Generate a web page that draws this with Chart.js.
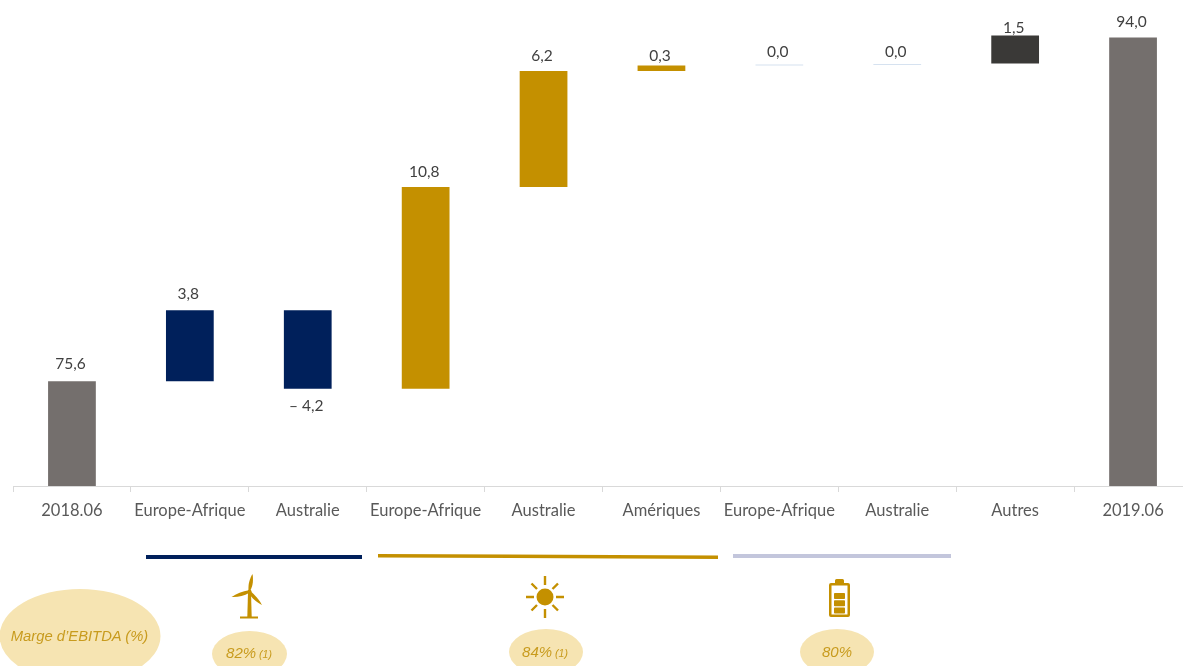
<!DOCTYPE html>
<html lang="fr"><head><meta charset="utf-8">
<style>
html,body{margin:0;padding:0;background:#fff;width:1183px;height:666px;overflow:hidden}
#wrap{position:absolute;left:0;top:0;width:1200px;height:666px}
#deco{position:absolute;left:0;top:0;width:1183px;height:666px}
#deco text{font-family:"Liberation Sans",Arial,sans-serif;font-style:italic;fill:#c89b1e;text-anchor:middle}
</style>
<script src="https://cdn.jsdelivr.net/npm/chart.js@4/dist/chart.umd.min.js"></script>
</head><body>
<div id="wrap"><canvas id="c" width="1200" height="666"></canvas></div>
<svg id="deco" viewBox="0 0 1183 666">
  <rect x="146" y="555" width="216" height="4" fill="#00205b"/>
  <polygon points="378,554 718,555.5 718,559 378,557.5" fill="#c49000"/>
  <rect x="733" y="554" width="218" height="4" fill="#c3c6dc"/>
  <ellipse cx="80" cy="636" rx="80.5" ry="47" fill="#f6e4b2"/>
  <ellipse cx="249.5" cy="654" rx="37.5" ry="23" fill="#f6e4b2"/>
  <ellipse cx="546" cy="652" rx="37" ry="23" fill="#f6e4b2"/>
  <ellipse cx="837" cy="652" rx="37" ry="23" fill="#f6e4b2"/>
  <text x="79.5" y="640.5" font-size="14.8">Marge d’EBITDA (%)</text>
  <text x="249" y="658" font-size="15">82%<tspan font-size="10.5" dx="3">(1)</tspan></text>
  <text x="545" y="657" font-size="15">84%<tspan font-size="10.5" dx="3">(1)</tspan></text>
  <text x="837" y="657" font-size="15">80%</text>
  <!-- éolienne -->
  <g fill="#c49000">
    <path d="M248 592 L247.3 617 L251.7 617 L251 592 Z"/>
    <rect x="240" y="616.5" width="18" height="2"/>
    <circle cx="249.5" cy="591.5" r="2"/>
    <path d="M248.5 590 C248 584 250 578 252.5 574 C253.5 579 253 586 250.5 590 Z"/>
    <path d="M248.5 590.5 C243 591 236 594 231.5 597 C237 597.5 244 596 249 593 Z"/>
    <path d="M251 591.5 C255 595 259.5 600 262 605 C257 602.5 251.5 598 249 593.5 Z"/>
  </g>
  <!-- soleil -->
  <g stroke="#c49000" stroke-width="2.4" fill="none">
    <path d="M545 576V585M545 609V618M526 597H534M556 597H564M531.5 583.5L537 589M552.5 589L558 583.5M531.5 610.5L537 605M552.5 605L558 610.5"/>
  </g>
  <circle cx="545" cy="597" r="8.5" fill="#c49000"/>
  <!-- batterie -->
  <g fill="#c49000">
    <path fill-rule="evenodd" d="M835 583V580.5Q835 579 836.5 579H842.5Q844 579 844 580.5V583H848Q850 583 850 585V615Q850 617 848 617H831Q829 617 829 615V585Q829 583 831 583ZM831.5 585.5V614.5H847.5V585.5Z"/>
    <rect x="834" y="593" width="11" height="6" rx="0.8"/>
    <rect x="834" y="600.3" width="11" height="6" rx="0.8"/>
    <rect x="834" y="607.6" width="11" height="6" rx="0.8"/>
  </g>
</svg>
<script>
const categories = ["2018.06","Europe-Afrique","Australie","Europe-Afrique","Australie","Amériques","Europe-Afrique","Australie","Autres","2019.06"];
const barLow  = [70, 75.6, 75.2, 75.2, 86.0, 92.2, 92.5, 92.52, 92.6, 70];
const barHigh = [75.6, 79.4, 79.4, 86.0, 92.2, 92.5, 92.5, 92.52, 94.1, 94.0];
const valueLabels = ["75,6","3,8","– 4,2","10,8","6,2","0,3","0,0","0,0","1,5","94,0"];
const barColors = ["#746f6d","#00205b","#00205b","#c49000","#c49000","#c49000","#d6e2f0","#d6e2f0","#3a3937","#746f6d"];
const labelBelow = [false,false,true,false,false,false,false,false,false,false];
const labelGap = [17,16,17,15,15,9,13,13,8,15];

const valueLabelPlugin = {
  id:"valueLabels",
  afterDatasetsDraw(chart){
    const ctx = chart.ctx, meta = chart.getDatasetMeta(0);
    ctx.save();
    ctx.font = '15.5px Lato, sans-serif';
    ctx.fillStyle = "#404040";
    ctx.textAlign = "center";
    ctx.textBaseline = "middle";
    meta.data.forEach((el,i)=>{
      const y = labelBelow[i] ? chart.scales.y.getPixelForValue(barLow[i]) + labelGap[i]
                              : chart.scales.y.getPixelForValue(barHigh[i]) - labelGap[i];
      ctx.fillText(valueLabels[i], el.x - 1.5, y);
    });
    ctx.restore();
  }
};

new Chart(document.getElementById("c"),{
  type:"bar",
  data:{labels:categories,datasets:[{
    data:barLow.map((v,i)=>[v,barHigh[i]]),
    backgroundColor:barColors,
    categoryPercentage:1,
    barPercentage:0.405,
    minBarLength:1,
    borderWidth:0
  }]},
  options:{
    responsive:false,animation:false,
    layout:{padding:{left:13,right:8,top:0,bottom:0}},
    plugins:{legend:{display:false},tooltip:{enabled:false}},
    scales:{
      y:{display:false,min:70,max:96},
      x:{
        afterFit(s){s.height=180;},
        border:{color:"#d9d9d9",width:1},
        grid:{offset:true,drawOnChartArea:false,color:"#d9d9d9",tickLength:6},
        ticks:{color:"#595959",padding:8.5,maxRotation:0,autoSkip:false,font:{family:"Lato, sans-serif",size:16.5}}
      }
    }
  },
  plugins:[valueLabelPlugin]
});
</script>
</body></html>
